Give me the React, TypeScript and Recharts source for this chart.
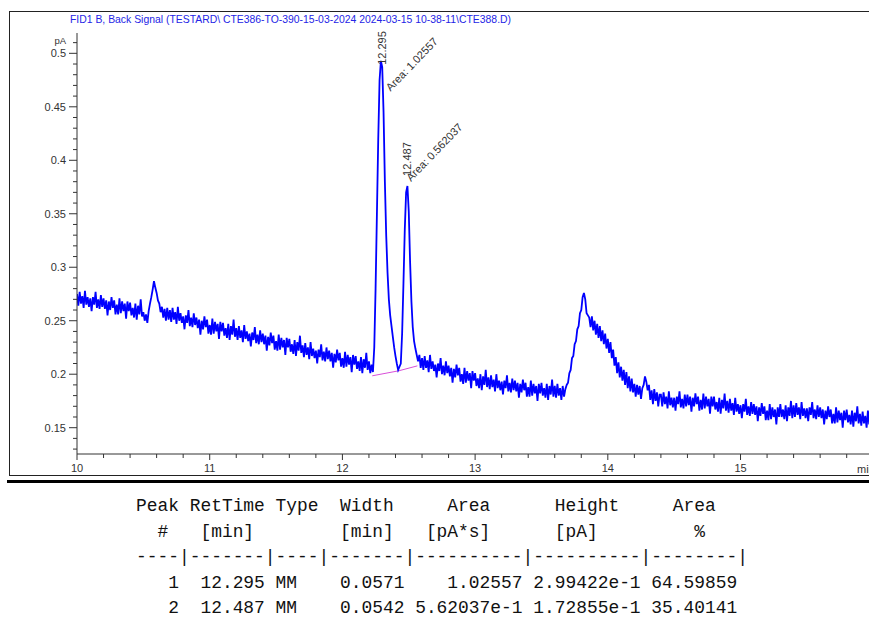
import { LineChart, Line, XAxis, YAxis, ReferenceLine, ReferenceDot } from 'recharts'

// FID signal, one sample every 0.01 min, split per minute (pA)
const sig10 = [
  0.275, 0.264, 0.277, 0.266, 0.273, 0.262, 0.278, 0.265, 0.272, 0.263,
  0.271, 0.259, 0.272, 0.265, 0.277, 0.262, 0.270, 0.261, 0.274, 0.263,
  0.271, 0.261, 0.269, 0.255, 0.268, 0.260, 0.272, 0.262, 0.269, 0.256,
  0.265, 0.256, 0.271, 0.257, 0.268, 0.259, 0.266, 0.252, 0.268, 0.259,
  0.267, 0.255, 0.262, 0.253, 0.266, 0.251, 0.264, 0.256, 0.270, 0.254,
  0.258, 0.250, 0.256, 0.248, 0.259, 0.266, 0.272, 0.279, 0.287, 0.281,
  0.276, 0.269, 0.266, 0.258, 0.263, 0.253, 0.261, 0.250, 0.262, 0.251,
  0.260, 0.249, 0.262, 0.251, 0.258, 0.247, 0.263, 0.250, 0.257, 0.248,
  0.254, 0.242, 0.255, 0.248, 0.260, 0.245, 0.253, 0.244, 0.257, 0.246,
  0.253, 0.243, 0.251, 0.237, 0.250, 0.242, 0.254, 0.244, 0.251, 0.238,
]
const sig11 = [
  0.246, 0.237, 0.252, 0.238, 0.249, 0.240, 0.247, 0.233, 0.249, 0.240,
  0.248, 0.236, 0.243, 0.234, 0.247, 0.232, 0.245, 0.237, 0.251, 0.235,
  0.243, 0.232, 0.245, 0.234, 0.241, 0.230, 0.246, 0.233, 0.240, 0.231,
  0.238, 0.226, 0.239, 0.232, 0.244, 0.229, 0.237, 0.228, 0.241, 0.230,
  0.238, 0.228, 0.236, 0.222, 0.235, 0.227, 0.239, 0.229, 0.236, 0.223,
  0.231, 0.222, 0.237, 0.223, 0.234, 0.225, 0.232, 0.218, 0.234, 0.225,
  0.233, 0.221, 0.228, 0.219, 0.232, 0.217, 0.230, 0.222, 0.236, 0.220,
  0.227, 0.216, 0.229, 0.218, 0.225, 0.214, 0.230, 0.217, 0.224, 0.215,
  0.222, 0.210, 0.223, 0.216, 0.228, 0.213, 0.221, 0.212, 0.225, 0.214,
  0.222, 0.212, 0.220, 0.206, 0.219, 0.211, 0.223, 0.213, 0.220, 0.207,
]
const sig12 = [
  0.215, 0.206, 0.221, 0.207, 0.218, 0.209, 0.216, 0.202, 0.218, 0.209,
  0.217, 0.205, 0.212, 0.203, 0.216, 0.201, 0.214, 0.206, 0.220, 0.204,
  0.212, 0.201, 0.209, 0.202, 0.225, 0.280, 0.350, 0.420, 0.475, 0.493,
  0.487, 0.445, 0.380, 0.330, 0.295, 0.270, 0.255, 0.245, 0.235, 0.225,
  0.217, 0.210, 0.204, 0.207, 0.210, 0.238, 0.285, 0.335, 0.370, 0.376,
  0.352, 0.305, 0.268, 0.244, 0.231, 0.224, 0.218, 0.212, 0.218, 0.206,
  0.215, 0.204, 0.217, 0.206, 0.213, 0.202, 0.218, 0.205, 0.212, 0.203,
  0.209, 0.197, 0.210, 0.203, 0.215, 0.200, 0.208, 0.199, 0.212, 0.201,
  0.208, 0.198, 0.206, 0.192, 0.205, 0.197, 0.209, 0.199, 0.206, 0.193,
  0.200, 0.191, 0.206, 0.192, 0.203, 0.194, 0.201, 0.187, 0.203, 0.194,
]
const sig13 = [
  0.201, 0.189, 0.196, 0.187, 0.200, 0.185, 0.198, 0.190, 0.204, 0.188,
  0.197, 0.186, 0.199, 0.188, 0.195, 0.184, 0.200, 0.187, 0.194, 0.185,
  0.193, 0.181, 0.194, 0.187, 0.199, 0.184, 0.192, 0.183, 0.196, 0.185,
  0.194, 0.184, 0.192, 0.178, 0.191, 0.183, 0.195, 0.185, 0.192, 0.179,
  0.188, 0.179, 0.194, 0.180, 0.191, 0.182, 0.189, 0.175, 0.191, 0.182,
  0.192, 0.180, 0.187, 0.178, 0.191, 0.176, 0.189, 0.181, 0.195, 0.179,
  0.189, 0.178, 0.191, 0.180, 0.187, 0.176, 0.189, 0.179, 0.186, 0.190,
  0.192, 0.201, 0.204, 0.215, 0.217, 0.228, 0.231, 0.242, 0.245, 0.257,
  0.260, 0.272, 0.276, 0.270, 0.257, 0.255, 0.253, 0.244, 0.254, 0.241,
  0.250, 0.237, 0.247, 0.234, 0.245, 0.231, 0.241, 0.228, 0.238, 0.224,
]
const sig14 = [
  0.233, 0.220, 0.230, 0.215, 0.223, 0.208, 0.216, 0.201, 0.211, 0.197,
  0.207, 0.194, 0.204, 0.190, 0.202, 0.187, 0.198, 0.184, 0.196, 0.183,
  0.191, 0.179, 0.190, 0.181, 0.189, 0.177, 0.187, 0.190, 0.198, 0.193,
  0.185, 0.190, 0.176, 0.185, 0.172, 0.186, 0.175, 0.183, 0.170, 0.181,
  0.181, 0.170, 0.183, 0.172, 0.179, 0.168, 0.184, 0.171, 0.178, 0.169,
  0.178, 0.166, 0.179, 0.172, 0.184, 0.169, 0.177, 0.168, 0.181, 0.170,
  0.181, 0.171, 0.179, 0.165, 0.178, 0.170, 0.182, 0.172, 0.179, 0.166,
  0.176, 0.167, 0.182, 0.168, 0.179, 0.170, 0.177, 0.163, 0.179, 0.170,
  0.179, 0.167, 0.174, 0.165, 0.178, 0.163, 0.176, 0.168, 0.182, 0.166,
  0.175, 0.164, 0.177, 0.166, 0.173, 0.162, 0.178, 0.165, 0.172, 0.163,
]
const sig15 = [
  0.171, 0.159, 0.172, 0.165, 0.177, 0.162, 0.170, 0.161, 0.174, 0.163,
  0.172, 0.162, 0.170, 0.156, 0.169, 0.161, 0.173, 0.163, 0.170, 0.157,
  0.166, 0.157, 0.172, 0.158, 0.169, 0.160, 0.167, 0.153, 0.169, 0.160,
  0.172, 0.160, 0.167, 0.158, 0.171, 0.156, 0.169, 0.161, 0.175, 0.159,
  0.171, 0.160, 0.173, 0.162, 0.169, 0.158, 0.174, 0.161, 0.168, 0.159,
  0.168, 0.156, 0.169, 0.162, 0.174, 0.159, 0.167, 0.158, 0.171, 0.160,
  0.169, 0.159, 0.167, 0.153, 0.166, 0.158, 0.170, 0.160, 0.167, 0.154,
  0.163, 0.154, 0.169, 0.155, 0.166, 0.157, 0.164, 0.150, 0.166, 0.157,
  0.167, 0.155, 0.162, 0.153, 0.166, 0.151, 0.164, 0.156, 0.170, 0.154,
  0.163, 0.152, 0.165, 0.154, 0.161, 0.150, 0.166, 0.153, 0.160, 0.151,
]

const startTime = 10
const sampleStep = 0.01

// integrated peaks
const peakTimes = [12.295, 12.487]
const peakTops = [0.493, 0.377]
const peakAreaText = ['1.02557', '0.562037']

// drawn integration baseline (magenta)
const baseTimes = [12.225, 12.425, 12.565]
const baseValues = [0.1985, 0.2032, 0.2078]

const xTicks = [
  10, 10.2, 10.4, 10.6, 10.8, 11, 11.2, 11.4, 11.6, 11.8, 12, 12.2, 12.4, 12.6, 12.8,
  13, 13.2, 13.4, 13.6, 13.8, 14, 14.2, 14.4, 14.6, 14.8, 15, 15.2, 15.4, 15.6, 15.8,
]
const yTicks = [
  0.13, 0.14, 0.15, 0.16, 0.17, 0.18, 0.19, 0.2, 0.21, 0.22, 0.23, 0.24, 0.25, 0.26, 0.27,
  0.28, 0.29, 0.3, 0.31, 0.32, 0.33, 0.34, 0.35, 0.36, 0.37, 0.38, 0.39, 0.4, 0.41, 0.42,
  0.43, 0.44, 0.45, 0.46, 0.47, 0.48, 0.49, 0.5, 0.51,
]

// report table
const tableNo = [1, 2]
const tableRet = ['12.295', '12.487']
const tableType = ['MM', 'MM']
const tableWidth = ['0.0571', '0.0542']
const tableArea = ['1.02557', '5.62037e-1']
const tableHeight = ['2.99422e-1', '1.72855e-1']
const tablePct = ['64.59859', '35.40141']

const title = 'FID1 B, Back Signal (TESTARD\\ CTE386-TO-390-15-03-2024 2024-03-15 10-38-11\\CTE388.D)'

const signal = [...sig10, ...sig11, ...sig12, ...sig13, ...sig14, ...sig15]
const data = signal.map((v, i) => ({ t: Math.round((startTime + i * sampleStep) * 100) / 100, v }))
const baseSegments = baseTimes.slice(1).map((t, i) => [
  { x: baseTimes[i], y: baseValues[i] },
  { x: t, y: baseValues[i + 1] },
])

const tableLines = [
  'Peak RetTime Type  Width     Area      Height     Area  ',
  '  #   [min]        [min]   [pA*s]      [pA]         %',
  '----|-------|----|-------|----------|----------|--------|',
  ...tableNo.map((n, i) =>
    [
      String(n).padStart(4),
      tableRet[i].padStart(7),
      tableType[i].padEnd(4),
      tableWidth[i].padStart(7),
      tableArea[i].padStart(10),
      tableHeight[i].padStart(10),
      tablePct[i].padStart(8),
    ].join(' ')
  ),
]

const AXIS = '#333333'
const SANS = '"Liberation Sans", Arial, sans-serif'

// label placement relative to each peak top, in px
const labelOffsets = [
  { rtY: 4, areaX: 9, areaY: 31 },
  { rtY: -9, areaX: 4, areaY: -3 },
]

function XTick(props: any) {
  const { x, y, payload } = props
  const v = payload.value
  const major = Math.abs(v - Math.round(v)) < 1e-6
  return (
    <g>
      <line x1={x} x2={x} y1={y} y2={y + (major ? 6 : 4)} stroke={AXIS} />
      {major && (
        <text x={x} y={y + 18} textAnchor="middle" fontSize={11} fontFamily={SANS} fill={AXIS}>
          {Math.round(v)}
        </text>
      )}
    </g>
  )
}

function YTick(props: any) {
  const { x, y, payload } = props
  const v = payload.value
  const major = Math.abs(v * 20 - Math.round(v * 20)) < 1e-6
  return (
    <g>
      <line x1={x - (major ? 8 : 4)} x2={x} y1={y} y2={y} stroke={AXIS} />
      {major && (
        <text x={x - 11} y={y + 4} textAnchor="end" fontSize={11} fontFamily={SANS} fill={AXIS}>
          {Number(v.toFixed(2)).toString()}
        </text>
      )}
    </g>
  )
}

function PeakLabel({ cx, cy, i }: { cx: number; cy: number; i: number }) {
  const o = labelOffsets[i]
  const rx = cx + 4
  const ry = cy + o.rtY
  const ax = cx + o.areaX
  const ay = cy + o.areaY
  return (
    <g fontFamily={SANS} fontSize={11} fill="#333">
      <text x={rx} y={ry} transform={`rotate(-90 ${rx} ${ry})`}>
        {peakTimes[i].toFixed(3)}
      </text>
      <text x={ax} y={ay} transform={`rotate(-46 ${ax} ${ay})`}>
        Area: {peakAreaText[i]}
      </text>
    </g>
  )
}

export default function App() {
  return (
    <div style={{ position: 'absolute', left: 0, top: 0, width: 869, height: 627, overflow: 'hidden', background: '#fff' }}>
      <div style={{ position: 'absolute', left: 9, top: 11, width: 900, height: 463, border: '1px solid #222' }} />
      <div style={{ position: 'absolute', left: 7, top: 480, width: 870, height: 3, background: '#000' }} />
      <div style={{ position: 'absolute', left: 0, top: 0 }}>
        <LineChart width={880} height={480} data={data} margin={{ top: 33, right: 0, bottom: 6, left: 10 }}>
          <XAxis
            dataKey="t"
            type="number"
            domain={[10, 16.051]}
            ticks={xTicks}
            interval={0}
            allowDataOverflow
            height={20}
            tickSize={0}
            tickMargin={0}
            tickLine={false}
            axisLine={{ stroke: AXIS }}
            tick={XTick}
          />
          <YAxis
            type="number"
            domain={[0.1254, 0.519]}
            ticks={yTicks}
            interval={0}
            allowDataOverflow
            width={67}
            tickSize={0}
            tickMargin={0}
            tickLine={false}
            axisLine={{ stroke: AXIS }}
            tick={YTick}
          />
          {baseSegments.map((seg, i) => (
            <ReferenceLine key={`b${i}`} segment={seg} stroke="#d94fd9" strokeWidth={1} />
          ))}
          <Line
            type="linear"
            dataKey="v"
            stroke="#0000ff"
            strokeWidth={1.8}
            dot={false}
            isAnimationActive={false}
          />
          {peakTimes.map((t, i) => (
            <ReferenceDot
              key={`p${i}`}
              x={t}
              y={peakTops[i]}
              r={0}
              shape={(p: any) => <PeakLabel cx={p.cx} cy={p.cy} i={i} />}
            />
          ))}
        </LineChart>
      </div>
      <svg style={{ position: 'absolute', left: 0, top: 0 }} width={869} height={480}>
        <text x={70} y={23} fontSize={10.6} fontFamily={SANS} fill="#2424e6" textLength={441} lengthAdjust="spacingAndGlyphs">
          {title}
        </text>
        <text x={66} y={43.5} textAnchor="end" fontSize={9.5} fontFamily={SANS} fill={AXIS}>
          pA
        </text>
        <text x={857} y={473} fontSize={11} fontFamily={SANS} fill={AXIS}>
          min
        </text>
      </svg>
      <pre
        style={{
          position: 'absolute',
          left: 136,
          top: 494,
          margin: 0,
          fontFamily: '"Liberation Mono", monospace',
          fontSize: 17.9,
          lineHeight: '25.5px',
          color: '#111',
        }}
      >
        {tableLines.join('\n')}
      </pre>
    </div>
  )
}
